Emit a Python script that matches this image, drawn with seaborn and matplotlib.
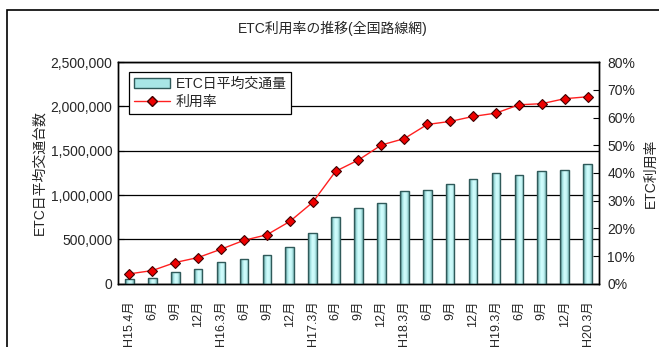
import numpy as np
import pandas as pd
import matplotlib
matplotlib.use("Agg")
import matplotlib.pyplot as plt
import matplotlib.ticker as mticker
from matplotlib.patches import Rectangle
from matplotlib.lines import Line2D
from matplotlib.colors import LinearSegmentedColormap
import seaborn as sns

sns.set_style("white")
plt.rcParams["font.family"] = ["Liberation Sans", "Noto Sans CJK JP"]
plt.rcParams["font.size"] = 10

# Survey periods (quarterly, Heisei era)
periods = ["H15.4月", "6月", "9月", "12月",
           "H16.3月", "6月", "9月", "12月",
           "H17.3月", "6月", "9月", "12月",
           "H18.3月", "6月", "9月", "12月",
           "H19.3月", "6月", "9月", "12月",
           "H20.3月"]

# ETC average daily traffic (vehicles/day)
etc_daily = [53000, 64000, 128000, 173000, 245000, 279000, 324000, 414000,
             576000, 753000, 854000, 911000, 1050000, 1061000, 1121000,
             1181000, 1249000, 1227000, 1272000, 1287000, 1351000]

# ETC usage rate (%)
usage_rate = [3.6, 4.8, 7.7, 9.5, 12.5, 15.7, 17.7, 22.5, 29.4, 40.6, 44.7,
              50.1, 52.4, 57.5, 58.6, 60.4, 61.6, 64.6, 65.0, 66.8, 67.5]

df = pd.DataFrame({"idx": np.arange(len(periods)),
                   "traffic": etc_daily,
                   "rate": usage_rate})

fig = plt.figure(figsize=(6.59, 3.47), dpi=100)
ax = fig.add_axes([0.179, 0.182, 0.730, 0.639])

bar_face = "#bdf3f3"
bar_edge = "#2f5a5a"
sns.barplot(data=df, x="idx", y="traffic", color=bar_face, saturation=1,
            width=0.38, edgecolor=bar_edge, linewidth=1.0, ax=ax, zorder=3)

# Cylinder-like shading across each bar
shade = LinearSegmentedColormap.from_list(
    "bar_shade", ["#3f7070", "#9fdede", "#d4ffff", "#c4f6f6", "#7fbcbc"])
grad = np.linspace(0, 1, 64).reshape(1, -1)
for p in list(ax.patches):
    x0, y0 = p.get_x(), p.get_y()
    w, h = p.get_width(), p.get_height()
    im = ax.imshow(grad, cmap=shade, aspect="auto", extent=(x0, x0 + w, y0, y0 + h),
                   zorder=3.5, interpolation="bilinear")
    im.set_clip_path(p)
    p.set_zorder(3.6)
    p.set_facecolor("none")

ax.set_xlim(-0.5, len(periods) - 0.5)
ax.set_ylim(0, 2500000)
ax.yaxis.set_major_locator(mticker.MultipleLocator(500000))
ax.yaxis.set_major_formatter(mticker.FuncFormatter(lambda v, p: f"{int(v):,}"))
ax.grid(axis="y", color="black", linewidth=0.9, zorder=0)
ax.set_axisbelow(True)

ax.set_xticks(df["idx"])
ax.set_xticklabels(periods, rotation=90, va="top", ha="center", fontsize=9)
ax.set_xticks(np.arange(-0.5, len(periods)), minor=True)
ax.tick_params(axis="x", which="major", length=0, pad=12)
ax.tick_params(axis="x", which="minor", length=4, direction="in", color="black", width=0.8)
ax.tick_params(axis="y", length=4, direction="in", color="black", width=0.8, pad=4)
ax.set_xlabel("")
ax.set_ylabel("ETC日平均交通台数", labelpad=3)

ax2 = ax.twinx()
sns.lineplot(data=df, x="idx", y="rate", color="#ff2020", linewidth=1.0,
             marker="D", markersize=5, markerfacecolor="#ee0000",
             markeredgecolor="#400000", markeredgewidth=0.8, ax=ax2, zorder=4)
ax2.set_ylim(0, 80)
ax2.yaxis.set_major_locator(mticker.MultipleLocator(10))
ax2.yaxis.set_major_formatter(mticker.FuncFormatter(lambda v, p: f"{int(v)}%"))
ax2.tick_params(axis="y", length=4, direction="in", color="black", width=0.8, pad=6)
ax2.set_ylabel("ETC利用率", labelpad=6)
ax2.set_xlabel("")
ax2.set_xlim(-0.5, len(periods) - 0.5)

for a in (ax, ax2):
    for s in a.spines.values():
        s.set_color("black")
        s.set_linewidth(1.0)

handles = [Rectangle((0, 0), 1, 1, facecolor="#a8e6e6", edgecolor=bar_edge, linewidth=1.0),
           Line2D([], [], color="#ff2020", linewidth=1.0, marker="D", markersize=5,
                  markerfacecolor="#ee0000", markeredgecolor="#400000")]
leg = ax2.legend(handles, ["ETC日平均交通量", "利用率"], loc="upper left",
                 bbox_to_anchor=(0.023, 0.955), borderaxespad=0, fancybox=False,
                 framealpha=1, edgecolor="black", fontsize=10, borderpad=0.35,
                 labelspacing=0.3, handlelength=2.6, handletextpad=0.4)
leg.get_frame().set_linewidth(0.9)
leg.set_zorder(10)

fig.text(0.505, 0.918, "ETC利用率の推移(全国路線網)", ha="center", va="center", fontsize=10)

# Outer chart frame
fig.patches.append(Rectangle((7 / 659, -0.05), 1.1, 1 - 10 / 347 + 0.05,
                             transform=fig.transFigure, fill=False,
                             edgecolor="black", linewidth=1.2, clip_on=False))

fig.savefig("out.png", dpi=100)
